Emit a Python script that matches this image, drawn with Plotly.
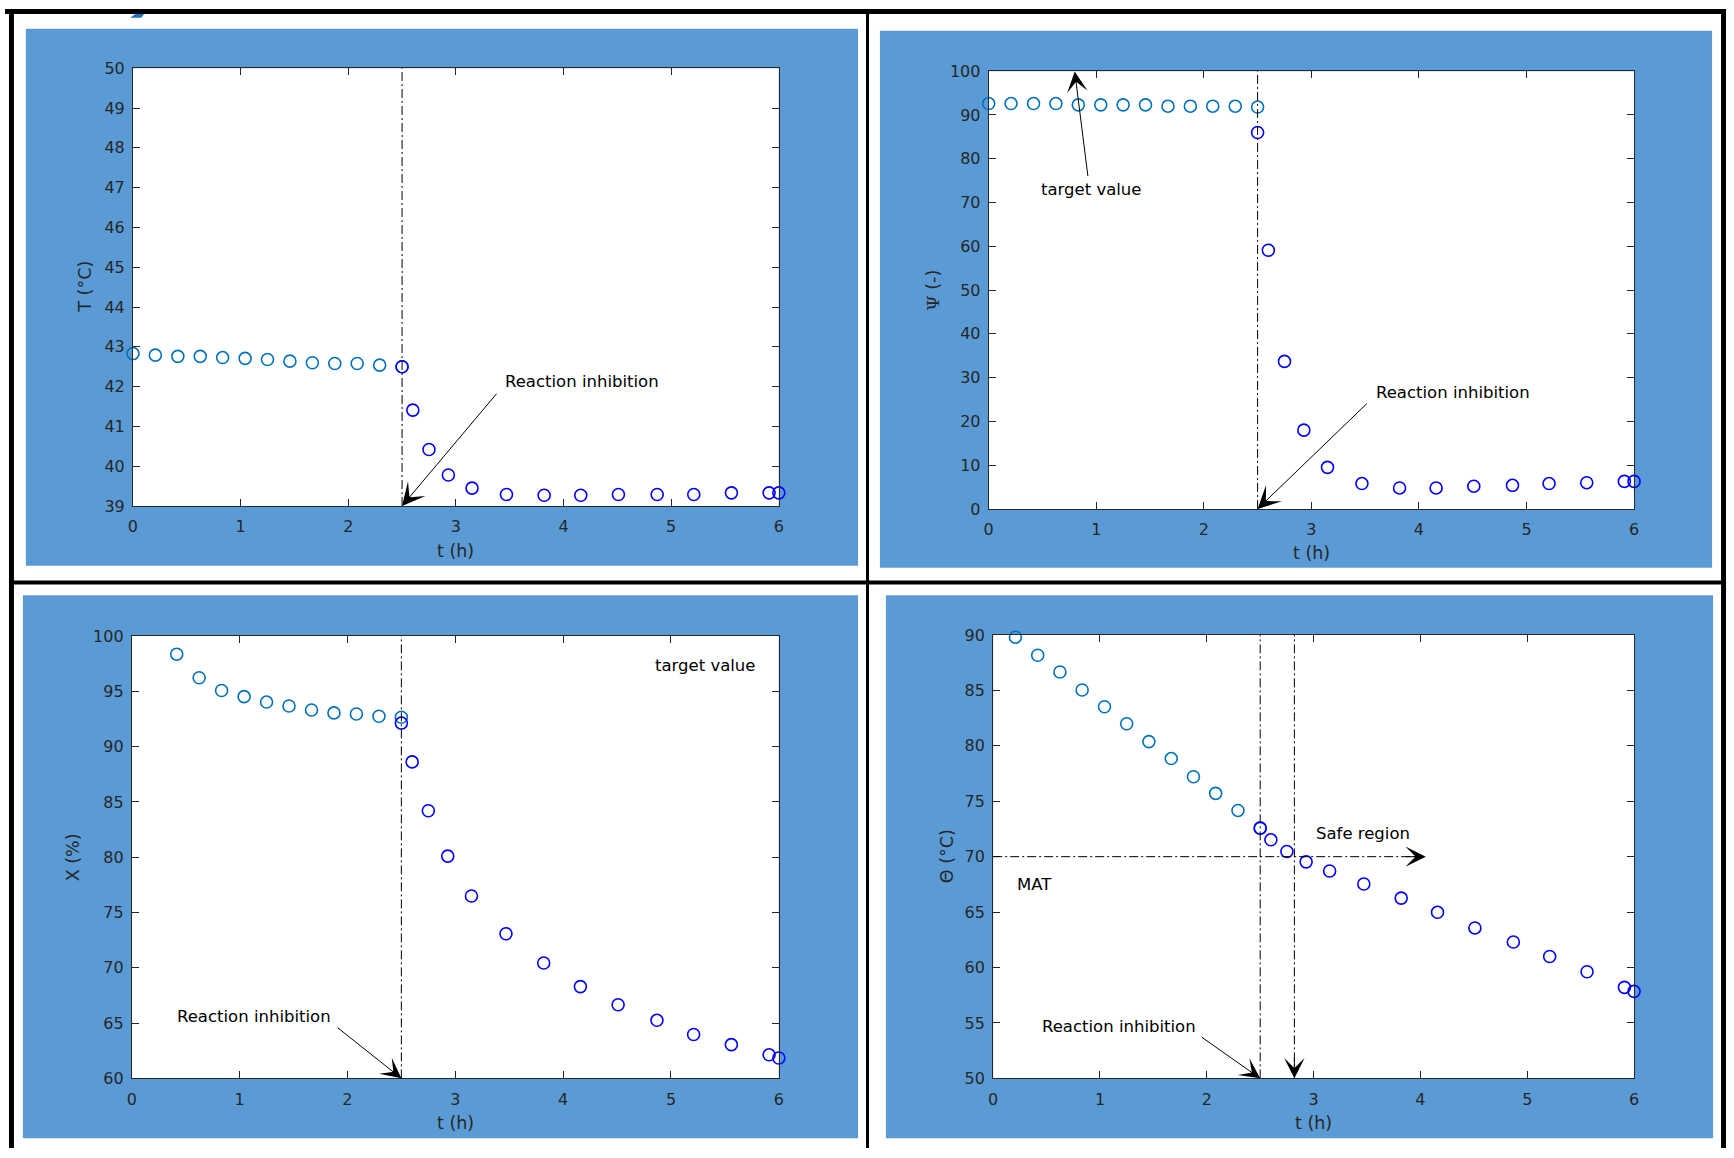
import plotly.graph_objects as go

W, H = 1734, 1158

# ---- data -------------------------------------------------------------
# sampling times before and after the inhibition at t = 2.5 h
t_before = [0, 0.208, 0.417, 0.625, 0.833, 1.042, 1.25, 1.458, 1.667, 1.875, 2.083, 2.292, 2.5]
t_after = [2.5, 2.6, 2.75, 2.93, 3.15, 3.47, 3.82, 4.16, 4.51, 4.87, 5.21, 5.56, 5.91, 6.0]

# reactor temperature T (°C)
T_before = [42.83, 42.79, 42.76, 42.76, 42.73, 42.71, 42.68, 42.64, 42.60, 42.58, 42.58, 42.54, 42.50]
T_after = [42.50, 41.41, 40.42, 39.78, 39.45, 39.29, 39.27, 39.27, 39.29, 39.29, 39.29, 39.33, 39.33, 39.33]

# Psi (-)
psi_before = [92.6, 92.6, 92.6, 92.6, 92.3, 92.3, 92.3, 92.3, 92.0, 92.0, 92.0, 92.0, 91.8]
psi_after = [86.0, 59.1, 33.7, 18.0, 9.5, 5.8, 4.8, 4.8, 5.2, 5.4, 5.8, 6.0, 6.3, 6.3]

# conversion X (%) -- the first two samples lie above the 100 % axis limit
X_before = [98.36, 96.23, 95.08, 94.52, 94.03, 93.67, 93.31, 93.05, 92.95, 92.75, 92.66]
X_after = [92.13, 88.62, 84.20, 80.10, 76.49, 73.08, 70.43, 68.30, 66.66, 65.25, 63.97, 63.05, 62.13, 61.84]

# MTSR Theta (°C) -- the first sample lies above the 90 °C axis limit
theta_before = [89.8, 88.17, 86.66, 85.03, 83.52, 81.99, 80.38, 78.85, 77.21, 75.71, 74.17, 72.57]
theta_after = [72.57, 71.52, 70.47, 69.53, 68.71, 67.53, 66.26, 64.98, 63.57, 62.30, 60.99, 59.62, 58.21, 57.85]

t_inhibit = 2.5
t_safe = 2.82
MAT = 70

x_ticks = [0, 1, 2, 3, 4, 5, 6]

# ---- styling ------------------------------------------------------------
PANEL_BLUE = "#5B9BD5"
C_BEFORE = "#0072BD"
C_AFTER = "#0000FF"
AXIS_COLOR = "#262626"
FONT = "DejaVu Sans"
DASHDOT = "9px,3px,2px,3px"


def px(x):
    return x / W


def py(y):
    return 1 - y / H


# plot areas in pixels: (left, top, right, bottom)
areas = {
    1: (128.7, 60.2, 778.3, 505.3),
    2: (989.4, 63.2, 1638.5, 508.3),
    3: (127.5, 637.5, 778.3, 1087.2),
    4: (993.9, 636.4, 1638.5, 1087.2),
}
# blue panel backgrounds in pixels
panels = [
    (21, 20, 858, 566),
    (880, 22, 1717, 568),
    (18, 596, 858, 1148),
    (886, 596, 1718, 1148),
]

fig = go.Figure()


def add_series(n, xb, yb, xa, ya):
    ax = "" if n == 1 else str(n)
    for xs, ys, c in ((xb, yb, C_BEFORE), (xa, ya, C_AFTER)):
        fig.add_trace(go.Scatter(
            x=xs, y=ys, mode="markers", xaxis="x" + ax, yaxis="y" + ax,
            marker=dict(symbol="circle-open", size=12, color=c, line=dict(width=1.6, color=c)),
            cliponaxis=False, showlegend=False, hoverinfo="skip",
        ))


add_series(1, t_before, T_before, t_after, T_after)
add_series(2, t_before, psi_before, t_after, psi_after)
add_series(3, t_before[2:], X_before, t_after, X_after)
add_series(4, t_before[1:], theta_before, t_after, theta_after)

yranges = {1: ([39, 50], 1), 2: ([0, 100], 10), 3: ([60, 100], 5), 4: ([50, 90], 5)}

layout_axes = {}
for n, (l, t, r, b) in areas.items():
    suffix = "" if n == 1 else str(n)
    common = dict(
        showline=True, linecolor=AXIS_COLOR, linewidth=1, mirror="ticks",
        ticks="inside", ticklen=7, tickwidth=1, tickcolor=AXIS_COLOR,
        showgrid=False, zeroline=False,
        tickfont=dict(family=FONT, size=16, color=AXIS_COLOR),
    )
    layout_axes["xaxis" + suffix] = dict(
        domain=[px(l), px(r)], range=[0, 6], tickvals=x_ticks,
        anchor="y" + suffix, ticklabelstandoff=6, **common,
    )
    rng, dt = yranges[n]
    layout_axes["yaxis" + suffix] = dict(
        domain=[py(b), py(t)], range=rng, dtick=dt, tick0=rng[0],
        anchor="x" + suffix, ticklabelstandoff=4, **common,
    )

shapes = []
for (l, t, r, b) in panels:
    shapes.append(dict(type="rect", xref="paper", yref="paper", x0=px(l), x1=px(r), y0=py(b), y1=py(t),
                       fillcolor=PANEL_BLUE, line=dict(width=0), layer="below"))
for (l, t, r, b) in areas.values():
    shapes.append(dict(type="rect", xref="paper", yref="paper", x0=px(l), x1=px(r), y0=py(b), y1=py(t),
                       fillcolor="white", line=dict(width=0), layer="below"))

# black frame around the four panels
frame = [(0, 0, 1731, 5), (4, 0, 9, H), (1726, 0, 1731, H), (866, 0, 869, H), (4, 581, 1731, 585)]
for (l, t, r, b) in frame:
    shapes.append(dict(type="rect", xref="paper", yref="paper", x0=px(l), x1=px(r), y0=py(b), y1=py(t),
                       fillcolor="black", line=dict(width=0), layer="above"))
shapes.append(dict(type="path", xref="paper", yref="paper",
                   path=f"M {px(126)} {py(9)} L {px(131)} {py(5)} L {px(140)} {py(5)} L {px(137)} {py(9)} Z",
                   fillcolor="#1F6FC5", line=dict(width=0), layer="above"))

# inhibition markers
for n, (lo, hi) in ((1, (39, 50)), (2, (0, 100)), (3, (60, 100)), (4, (50, 90))):
    s = "" if n == 1 else str(n)
    shapes.append(dict(type="line", xref="x" + s, yref="y" + s, x0=t_inhibit, x1=t_inhibit, y0=lo, y1=hi,
                       line=dict(color="black", width=1, dash=DASHDOT)))
# safe-region guides on the MTSR panel
shapes.append(dict(type="line", xref="x4", yref="y4", x0=t_safe, x1=t_safe, y0=50, y1=90,
                   line=dict(color="black", width=1, dash=DASHDOT)))
shapes.append(dict(type="line", xref="x4", yref="y4", x0=0, x1=4.0, y0=MAT, y1=MAT,
                   line=dict(color="black", width=1, dash=DASHDOT)))

annotations = []


def label(n, x, y, text, size=16.5):
    s = "" if n == 1 else str(n)
    annotations.append(dict(xref="x" + s, yref="y" + s, x=x, y=y, text=text, showarrow=False,
                            xanchor="left", yanchor="middle", font=dict(family=FONT, size=size, color="black")))


def arrow(n, x0, y0, x1, y1, size=3.4):
    s = "" if n == 1 else str(n)
    annotations.append(dict(xref="x" + s, yref="y" + s, axref="x" + s, ayref="y" + s,
                            x=x1, y=y1, ax=x0, ay=y0, text="", showarrow=True,
                            arrowhead=3, arrowsize=size, arrowwidth=1, arrowcolor="black"))


label(1, 3.44, 42.12, "Reaction inhibition")
arrow(1, 3.39, 41.86, t_inhibit, 39, 3.8)

label(2, 0.47, 73.0, "target value")
arrow(2, 0.924, 75.7, 0.8, 99.9)
label(2, 3.58, 26.7, "Reaction inhibition")
arrow(2, 3.53, 24.4, t_inhibit, 0, 3.8)

label(3, 4.83, 97.34, "target value")
label(3, 0.40, 65.6, "Reaction inhibition")
arrow(3, 1.895, 64.69, t_inhibit, 60)

label(4, 3.0, 72.08, "Safe region")
label(4, 0.20, 67.5, "MAT")
label(4, 0.44, 54.7, "Reaction inhibition")
arrow(4, 1.94, 53.8, t_inhibit, 50)
arrow(4, 3.85, MAT, 4.05, MAT)
arrow(4, t_safe, 52, t_safe, 50)

# axis titles
x_titles = {1: 551, 2: 553, 3: 1133, 4: 1133}
y_titles = {
    1: (81, "T (°C)"),
    2: (933, "<span style='font-family:DejaVu Serif'>Ψ</span> (-)"),
    3: (68.5, "X (%)"),
    4: (947, "Θ (°C)"),
}
for n, (l, t, r, b) in areas.items():
    annotations.append(dict(xref="paper", yref="paper", x=px((l + r) / 2), y=py(x_titles[n]),
                            text="t (h)", showarrow=False, xanchor="center", yanchor="middle",
                            font=dict(family=FONT, size=17.5, color=AXIS_COLOR)))
    xc, txt = y_titles[n]
    annotations.append(dict(xref="paper", yref="paper", x=px(xc), y=py((t + b) / 2),
                            text=txt, showarrow=False, textangle=-90, xanchor="center", yanchor="middle",
                            font=dict(family=FONT, size=17.5, color=AXIS_COLOR)))

fig.update_layout(
    width=W, height=H, margin=dict(l=0, r=0, t=0, b=0),
    paper_bgcolor="white", plot_bgcolor="white",
    font=dict(family=FONT, color=AXIS_COLOR),
    shapes=shapes, annotations=annotations, showlegend=False,
    **layout_axes,
)

fig.write_html("out.html")
